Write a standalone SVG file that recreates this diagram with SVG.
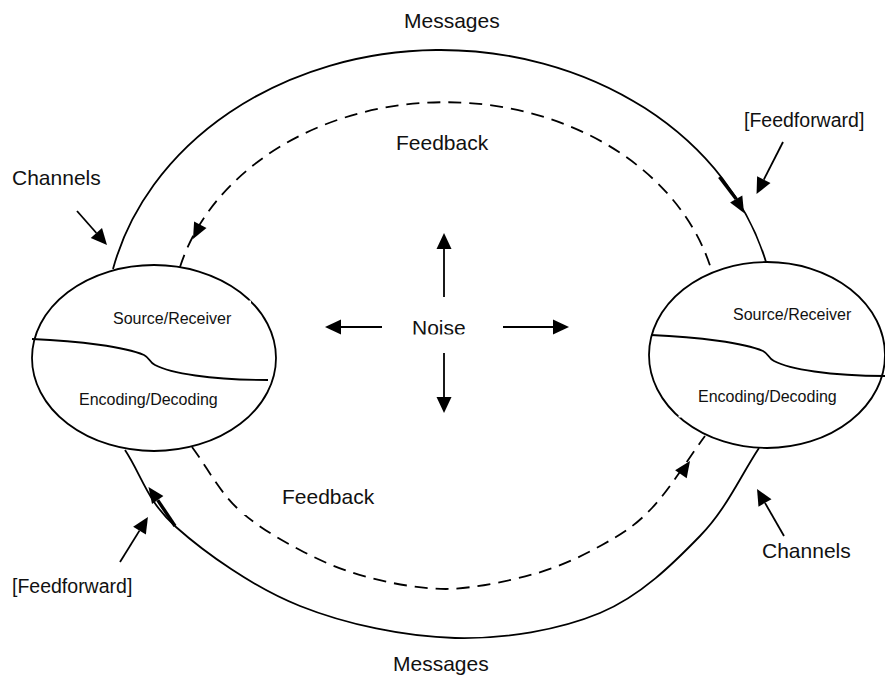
<svg xmlns="http://www.w3.org/2000/svg" width="885" height="677" viewBox="0 0 885 677">
<style>
.ln{fill:none;stroke:#000;stroke-width:1.8}
.dash{stroke-dasharray:13 8}
.thick{fill:none;stroke:#000;stroke-width:3.4}
.head{fill:#000;stroke:none}
.el{fill:#fff;stroke:#000;stroke-width:1.8}
.gap{fill:#fff;stroke:none}
.lbl{font-family:"Liberation Sans",Arial,sans-serif;font-size:21px;fill:#111}
.ff{font-size:19.5px}
.sm{font-size:16px}
</style>
<defs>
<marker id="ah" markerUnits="userSpaceOnUse" markerWidth="16" markerHeight="15" refX="0" refY="7.5" orient="auto" overflow="visible">
<path d="M0,0 L16,7.5 L0,15 z" fill="#000"/>
</marker>
<clipPath id="noiseClip"><rect x="400" y="300" width="80" height="34.5"/></clipPath>
</defs>

<g id="connectors">
<!-- top messages channel (solid) -->
<path class="ln" d="M113,269 A336,282 0 0 1 766,262"/>
<!-- top feedback (dashed) -->
<path class="ln dash" d="M180,267 A274,220 0 0 1 712,272"/>
<!-- bottom messages channel (solid) -->
<path class="ln" d="M125,450 C142,475.7 146.8,501 176,527 C205.2,553 253.5,587.5 300,606 C346.5,624.5 405,636.8 455,638 C505,639.2 559.2,630 600,613 C640.8,596 673.5,563.3 700,536 C726.5,508.7 739.3,478 759,448"/>
<!-- bottom feedback (dashed) -->
<path class="ln dash" d="M192,447 C207,467.3 219,490.8 237,508 C255,525.2 278.3,538.5 300,550 C321.7,561.5 342.7,570.5 367,577 C391.3,583.5 418.2,588.5 446,589 C473.8,588.5 508,581.3 534,574 C560,566.7 582.3,556 602,545 C621.7,534 634.8,526.2 652,508 C669.2,489.8 687.3,460 705,436"/>
<!-- white break behind lower Feedback label -->
<rect class="gap" x="238" y="470" width="140" height="45"/>

<!-- arrowheads on channel curves -->
<path class="head" d="M193,239 L206.5,227.9 L194.1,221.5 z"/>
<path class="head" d="M690,461 L686.7,478.2 L675.1,470.2 z"/>
<line class="thick" x1="719.5" y1="177" x2="736.2" y2="199"/>
<path class="head" d="M744,213 L742.3,195.6 L730.1,202.4 z"/>
<line class="thick" x1="157.7" y1="500.1" x2="175" y2="526"/>
<path class="head" d="M148.5,487 L163.4,496.1 L152,504.1 z"/>

<!-- pointer arrows -->
<line class="ln" x1="77" y1="211" x2="96.4" y2="233" marker-end="url(#ah)"/>
<line class="ln" x1="783" y1="142" x2="763.8" y2="179.7" marker-end="url(#ah)"/>
<line class="ln" x1="120" y1="562" x2="139.5" y2="530.6" marker-end="url(#ah)"/>
<line class="ln" x1="784" y1="536" x2="765" y2="502.9" marker-end="url(#ah)"/>

<!-- noise arrows -->
<line class="ln" x1="444" y1="297" x2="444" y2="249" marker-end="url(#ah)"/>
<line class="ln" x1="444" y1="353" x2="444" y2="397" marker-end="url(#ah)"/>
<line class="ln" x1="382" y1="327" x2="341" y2="327" marker-end="url(#ah)"/>
<line class="ln" x1="503" y1="327" x2="553" y2="327" marker-end="url(#ah)"/>
</g>

<g id="node-left">
<ellipse class="el" cx="154" cy="358" rx="122" ry="93"/>
<rect class="gap" x="248.5" y="300.5" width="2.5" height="2.5"/>
<path class="ln" d="M32,339 C80,341 125,347 144,355 C150,358 149,362 155,365 C170,373 210,380 268,380"/>
<text class="lbl sm" x="113" y="324">Source/Receiver</text>
<text class="lbl sm" x="79" y="405">Encoding/Decoding</text>
</g>

<g id="node-right">
<ellipse class="el" cx="767" cy="355" rx="118" ry="93"/>
<rect class="gap" x="868.5" y="297" width="2.5" height="2.5"/>
<rect class="gap" x="678.5" y="415.5" width="2.5" height="2"/>
<path class="ln" d="M651,335 C699,337 744,343 763,351 C769,354 768,358 774,361 C789,369 829,376 887,376"/>
<text class="lbl sm" x="733" y="320">Source/Receiver</text>
<text class="lbl sm" x="698" y="402">Encoding/Decoding</text>
</g>

<g id="node-noise">
<text class="lbl" x="412" y="335" clip-path="url(#noiseClip)">Noise</text>
</g>

<g id="labels">
<text class="lbl" x="404" y="28">Messages</text>
<text class="lbl" x="396" y="150">Feedback</text>
<text class="lbl" x="12" y="185">Channels</text>
<text class="lbl ff" x="744" y="127">[Feedforward]</text>
<text class="lbl" x="282" y="504">Feedback</text>
<text class="lbl ff" x="12" y="593">[Feedforward]</text>
<text class="lbl" x="762" y="558">Channels</text>
<text class="lbl" x="393" y="671">Messages</text>
</g>
</svg>
